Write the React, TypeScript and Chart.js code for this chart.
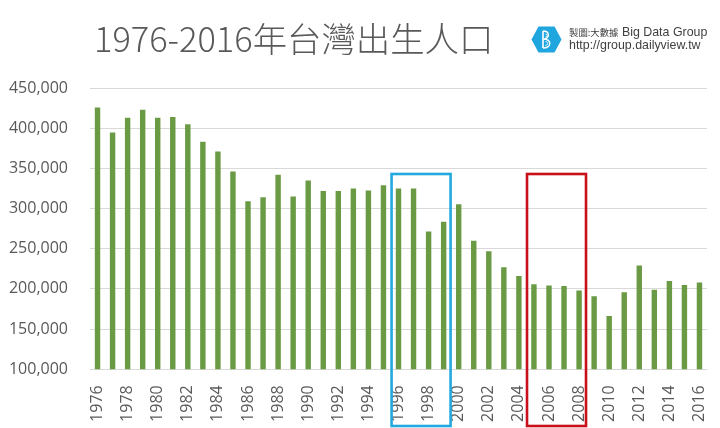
import React, { useEffect, useRef } from "react";
import { Chart, registerables } from "chart.js";

Chart.register(...registerables);

const years: string[] = [
  "1976","1977","1978","1979","1980","1981","1982","1983","1984","1985",
  "1986","1987","1988","1989","1990","1991","1992","1993","1994","1995",
  "1996","1997","1998","1999","2000","2001","2002","2003","2004","2005",
  "2006","2007","2008","2009","2010","2011","2012","2013","2014","2015","2016",
];

const births: number[] = [
  425700, 394600, 413000, 423000, 413000, 414000, 405000, 383000, 371000, 346000,
  309000, 314000, 342000, 315000, 335000, 322000, 322000, 325000, 322500, 329000,
  325000, 325000, 271600, 283500, 305500, 260000, 247000, 227000, 216000, 205700,
  204400, 203600, 198200, 191000, 166300, 196000, 229000, 199000, 210000, 205000, 208000,
];

const yTicks: number[] = [100000, 150000, 200000, 250000, 300000, 350000, 400000, 450000];

const boxStartYears: string[] = ["1996", "2005"];
const boxEndYears: string[] = ["1999", "2008"];
const boxTopValues: number[] = [343000, 343000];
const boxColors: string[] = ["#22a9e0", "#c8101a"];

const titleText = "1976-2016年台灣出生人口";
const creditCJK = "製圖:大數據";
const creditLatin = " Big Data Group";
const creditUrl = "http://group.dailyview.tw";

const boxPlugin = {
  id: "highlightBoxes",
  afterDatasetsDraw(chart: any) {
    const { ctx } = chart;
    const xs = chart.scales.x;
    const ys = chart.scales.y;
    const step = xs.getPixelForValue(1) - xs.getPixelForValue(0);
    ctx.save();
    ctx.lineWidth = 2.6;
    for (let i = 0; i < boxStartYears.length; i++) {
      const s = years.indexOf(boxStartYears[i]);
      const e = years.indexOf(boxEndYears[i]);
      const x1 = xs.getPixelForValue(s) - step * 0.46;
      const x2 = xs.getPixelForValue(e) + step * 0.46;
      const y1 = ys.getPixelForValue(boxTopValues[i]);
      const y2 = chart.height - 2;
      ctx.strokeStyle = boxColors[i];
      ctx.strokeRect(x1, y1, x2 - x1, y2 - y1);
    }
    ctx.restore();
  },
};

function Logo() {
  return (
    <svg width="31" height="27" viewBox="0 0 31 27" style={{ position: "absolute", left: 531, top: 26 }}>
      <polygon points="0.5,13.5 7.5,0.5 23.5,0.5 30.5,13.5 23.5,26.5 7.5,26.5" fill="#1fa6df" />
      <path d="M12 5 L12 22" stroke="#fff" strokeWidth="1.6" fill="none" />
      <path d="M12 5 C19 5 19 12.5 12.5 13 C21 13 21 22 12 22" stroke="#fff" strokeWidth="1.4" fill="none" />
      <path d="M14.5 15.5 C17.5 16 17.5 19 14.5 19.5" stroke="#fff" strokeWidth="1" fill="none" />
      <path d="M14.5 8 C16.5 8.5 16.5 10.5 14.5 11" stroke="#fff" strokeWidth="1" fill="none" />
    </svg>
  );
}

export default function App() {
  const ref = useRef<HTMLCanvasElement | null>(null);
  useEffect(() => {
    if (!ref.current) return;
    const chart = new Chart(ref.current, {
      type: "bar",
      data: {
        labels: years,
        datasets: [
          {
            data: births,
            backgroundColor: "#6a9a44",
            borderWidth: 0,
            barPercentage: 0.36,
            categoryPercentage: 1,
          },
        ],
      },
      options: {
        responsive: false,
        animation: false,
        layout: { padding: { top: 88, right: 13, bottom: 0, left: 0 } },
        plugins: { legend: { display: false }, tooltip: { enabled: false }, title: { display: false } },
        scales: {
          x: {
            grid: { display: false },
            border: { display: false },
            ticks: {
              autoSkip: false,
              minRotation: 90,
              maxRotation: 90,
              padding: 8,
              color: "#595959",
              font: { family: "'Open Sans', 'DejaVu Sans', sans-serif", size: 16 },
              callback: (_v: any, i: number) => (i % 2 === 0 ? years[i] : ""),
            },
            afterFit: (s: any) => {
              s.height = 58.7;
              s.paddingLeft = 0;
              s.paddingRight = 0;
            },
          },
          y: {
            min: yTicks[0],
            max: yTicks[yTicks.length - 1],
            border: { display: false },
            grid: { color: "#d9d9d9", lineWidth: 1, drawTicks: false },
            afterBuildTicks: (s: any) => {
              s.ticks = yTicks.map((v) => ({ value: v }));
            },
            ticks: {
              padding: 22,
              color: "#595959",
              font: { family: "'Open Sans', 'DejaVu Sans', sans-serif", size: 16 },
              callback: (v: any) => Number(v).toLocaleString("en-US"),
            },
            afterFit: (s: any) => {
              s.width = 90;
              s.paddingTop = 0;
              s.paddingBottom = 0;
            },
          },
        },
      },
      plugins: [boxPlugin],
    });
    return () => chart.destroy();
  }, []);

  return (
    <div style={{ position: "absolute", left: 0, top: 0, width: 720, height: 428, background: "#fff", overflow: "hidden" }}>
      <canvas ref={ref} width={720} height={428} style={{ position: "absolute", left: 0, top: 0 }} />
      <div
        style={{
          position: "absolute",
          left: 94,
          top: 20,
          fontFamily: "'Noto Sans CJK TC', 'Noto Sans', sans-serif",
          fontWeight: 300,
          fontSize: 34.4,
          lineHeight: "34px",
          color: "#595959",
          whiteSpace: "nowrap",
        }}
      >
        {titleText}
      </div>
      <Logo />
      <div
        style={{
          position: "absolute",
          left: 569,
          top: 26,
          fontFamily: "'Liberation Sans', Arial, sans-serif",
          fontSize: 12.4,
          lineHeight: "13.4px",
          color: "#3f3f3f",
          whiteSpace: "nowrap",
        }}
      >
        <div>
          <span style={{ fontFamily: "'Noto Sans CJK TC', sans-serif", fontSize: 9.4 }}>{creditCJK}</span>
          {creditLatin}
        </div>
        <div>{creditUrl}</div>
      </div>
    </div>
  );
}
